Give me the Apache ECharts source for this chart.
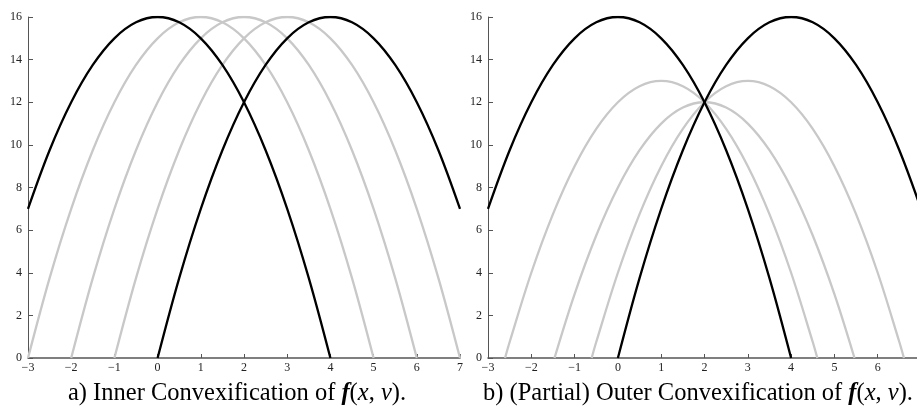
<!DOCTYPE html>
<html>
<head>
<meta charset="utf-8">
<script src="https://cdn.jsdelivr.net/npm/echarts@6/dist/echarts.min.js"></script>
<style>
html,body{margin:0;padding:0;background:#fff;}
#chart{width:917px;height:414px;}
</style>
</head>
<body>
<div id="chart"></div>
<script>
// ---- data ----
const xRange = [-3, 7];
const yRange = [0, 16];
const captionA = 'a) Inner Convexification of ';
const captionB = 'b) (Partial) Outer Convexification of ';

// panel a: inner convexification
const innerBlack1 = [[-3,7],[-2.5,9.75],[-2,12],[-1.5,13.75],[-1,15],[-0.5,15.75],[0,16],[0.5,15.75],[1,15],[1.5,13.75],[2,12],[2.5,9.75],[3,7],[3.5,3.75],[4,0]];
const innerBlack2 = [[0,0],[0.5,3.75],[1,7],[1.5,9.75],[2,12],[2.5,13.75],[3,15],[3.5,15.75],[4,16],[4.5,15.75],[5,15],[5.5,13.75],[6,12],[6.5,9.75],[7,7]];
const innerGray1 = [[-3,0],[-2.5,3.75],[-2,7],[-1.5,9.75],[-1,12],[-0.5,13.75],[0,15],[0.5,15.75],[1,16],[1.5,15.75],[2,15],[2.5,13.75],[3,12],[3.5,9.75],[4,7],[4.5,3.75],[5,0]];
const innerGray2 = [[-2,0],[-1.5,3.75],[-1,7],[-0.5,9.75],[0,12],[0.5,13.75],[1,15],[1.5,15.75],[2,16],[2.5,15.75],[3,15],[3.5,13.75],[4,12],[4.5,9.75],[5,7],[5.5,3.75],[6,0]];
const innerGray3 = [[-1,0],[-0.5,3.75],[0,7],[0.5,9.75],[1,12],[1.5,13.75],[2,15],[2.5,15.75],[3,16],[3.5,15.75],[4,15],[4.5,13.75],[5,12],[5.5,9.75],[6,7],[6.5,3.75],[7,0]];

// panel b: (partial) outer convexification
const outerBlack1 = [[-3,7],[-2.5,9.75],[-2,12],[-1.5,13.75],[-1,15],[-0.5,15.75],[0,16],[0.5,15.75],[1,15],[1.5,13.75],[2,12],[2.5,9.75],[3,7],[3.5,3.75],[4,0]];
const outerBlack2 = [[0,0],[0.5,3.75],[1,7],[1.5,9.75],[2,12],[2.5,13.75],[3,15],[3.5,15.75],[4,16],[4.5,15.75],[5,15],[5.5,13.75],[6,12],[6.5,9.75],[7,7]];
const outerGray1 = [[-2.606,0],[-2.5,0.75],[-2,4],[-1.5,6.75],[-1,9],[-0.5,10.75],[0,12],[0.5,12.75],[1,13],[1.5,12.75],[2,12],[2.5,10.75],[3,9],[3.5,6.75],[4,4],[4.5,0.75],[4.606,0]];
const outerGray2 = [[-1.464,0],[-1,3],[-0.5,5.75],[0,8],[0.5,9.75],[1,11],[1.5,11.75],[2,12],[2.5,11.75],[3,11],[3.5,9.75],[4,8],[4.5,5.75],[5,3],[5.464,0]];
const outerGray3 = [[-0.606,0],[-0.5,0.75],[0,4],[0.5,6.75],[1,9],[1.5,10.75],[2,12],[2.5,12.75],[3,13],[3.5,12.75],[4,12],[4.5,10.75],[5,9],[5.5,6.75],[6,4],[6.5,0.75],[6.606,0]];

// ---- styling ----
const BLACK = '#000000';
const GRAY = '#c8c8c8';
const LW = 2.3;
const tickFont = 'Liberation Serif';
const fmt = v => String(v).replace('-', '\u2212');

function xAxis(gi){
  return {
    type:'value', gridIndex:gi, min:xRange[0], max:xRange[1], interval:1,
    axisLine:{show:true, onZero:false, lineStyle:{color:'#555', width:1.6}},
    axisTick:{show:true, inside:true, length:4, lineStyle:{color:'#555', width:1}},
    axisLabel:{show:true, formatter:fmt, color:'#222', fontFamily:tickFont, fontSize:12, margin:4, showMinLabel:true, showMaxLabel:true, hideOverlap:false},
    splitLine:{show:false}
  };
}
function yAxis(gi){
  return {
    type:'value', gridIndex:gi, min:yRange[0], max:yRange[1], interval:2,
    axisLine:{show:true, onZero:false, lineStyle:{color:'#555', width:1}},
    axisTick:{show:true, inside:true, length:5, lineStyle:{color:'#555', width:1}},
    axisLabel:{show:true, formatter:fmt, color:'#222', fontFamily:tickFont, fontSize:12, margin:6},
    splitLine:{show:false}
  };
}
function line(data, color, gi, z){
  return {
    type:'line', data:data, xAxisIndex:gi, yAxisIndex:gi, smooth:0.35,
    showSymbol:false, symbol:'none', silent:true, z:z,
    lineStyle:{color:color, width:LW}, animation:false, clip:true
  };
}

const chart = echarts.init(document.getElementById('chart'), null, {renderer:'canvas'});
const CAP = 24.5;
const rich = {
  n:{fontFamily:'Liberation Serif', fontSize:CAP, color:'#111'},
  f:{fontFamily:'Liberation Serif', fontSize:CAP, color:'#111', fontStyle:'italic', fontWeight:'bold'},
  m:{fontFamily:'Liberation Serif', fontSize:CAP, color:'#111', fontStyle:'italic'}
};
function caption(prefix){
  return '{n|' + prefix + '}{f|f}{n|(}{m|x}{n|, }{m|v}{n|).}';
}

chart.setOption({
  animation:false,
  backgroundColor:'#ffffff',
  grid:[
    {left:28, top:17, width:432, height:341, containLabel:false, outerBoundsMode:'none'},
    {left:488, top:17, width:433, height:341, containLabel:false, outerBoundsMode:'none'}
  ],
  xAxis:[xAxis(0), xAxis(1)],
  yAxis:[yAxis(0), yAxis(1)],
  series:[
    line(innerGray1, GRAY, 0, 2),
    line(innerGray2, GRAY, 0, 2),
    line(innerGray3, GRAY, 0, 2),
    line(innerBlack1, BLACK, 0, 3),
    line(innerBlack2, BLACK, 0, 3),
    line(outerGray1, GRAY, 1, 2),
    line(outerGray2, GRAY, 1, 2),
    line(outerGray3, GRAY, 1, 2),
    line(outerBlack1, BLACK, 1, 3),
    line(outerBlack2, BLACK, 1, 3)
  ],
  graphic:[
    {type:'text', x:237, y:394, style:{text:caption(captionA), rich:rich, align:'center', verticalAlign:'middle'}},
    {type:'text', x:698, y:394, style:{text:caption(captionB), rich:rich, align:'center', verticalAlign:'middle'}}
  ]
});
</script>
</body>
</html>
